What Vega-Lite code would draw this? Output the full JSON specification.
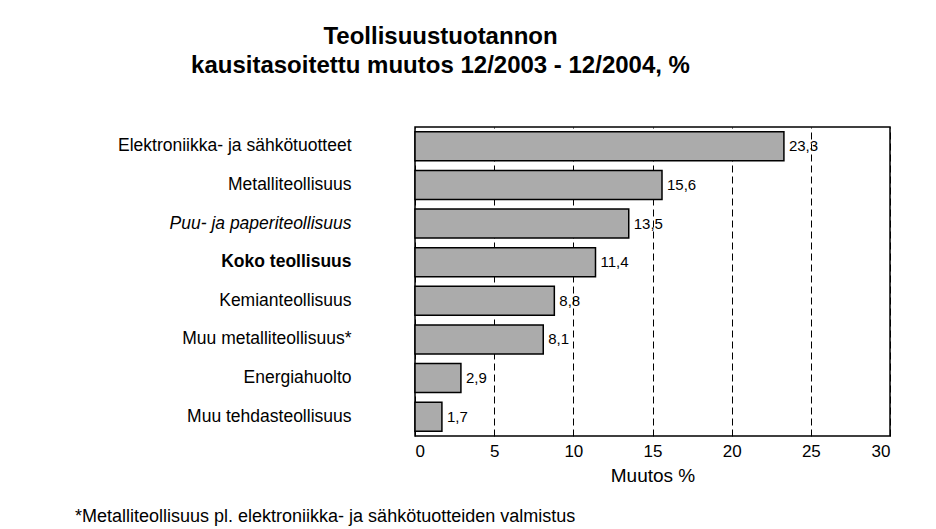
{
  "$schema": "https://vega.github.io/schema/vega-lite/v6.json",
  "autosize": {"type": "pad"},
  "padding": {"left": 75, "top": 24, "right": 0, "bottom": 0},
  "background": "white",
  "bounds": "flush",
  "spacing": 0,
  "config": {
    "font": "Liberation Sans",
    "locale": {"number": {"decimal": ",", "thousands": " ", "grouping": [3], "currency": ["", " €"]}},
    "view": {"stroke": "black", "strokeWidth": 1.5}
  },
  "title": {
    "text": "*Metalliteollisuus pl. elektroniikka- ja sähkötuotteiden valmistus",
    "orient": "bottom",
    "anchor": "start",
    "frame": "group",
    "dx": -340,
    "offset": 22,
    "fontSize": 18,
    "fontWeight": "normal",
    "color": "black"
  },
  "vconcat": [
    {
      "title": {
        "text": ["Teollisuustuotannon", "kausitasoitettu muutos 12/2003 - 12/2004, %"],
        "anchor": "middle",
        "frame": "group",
        "dx": -212,
        "offset": 49,
        "fontSize": 24,
        "fontWeight": "bold",
        "lineHeight": 29,
        "color": "black"
      },
      "width": 475,
      "height": 309,
      "data": {
        "values": [
          {"toimiala": "Elektroniikka- ja sähkötuotteet", "muutos": 23.3},
          {"toimiala": "Metalliteollisuus", "muutos": 15.6},
          {"toimiala": "Puu- ja paperiteollisuus", "muutos": 13.5},
          {"toimiala": "Koko teollisuus", "muutos": 11.4},
          {"toimiala": "Kemianteollisuus", "muutos": 8.8},
          {"toimiala": "Muu metalliteollisuus*", "muutos": 8.1},
          {"toimiala": "Energiahuolto", "muutos": 2.9},
          {"toimiala": "Muu tehdasteollisuus", "muutos": 1.7}
        ]
      },
      "encoding": {
        "y": {
          "field": "toimiala",
          "type": "nominal",
          "sort": null,
          "scale": {"paddingInner": 0.25, "paddingOuter": 0.125},
          "axis": {
            "title": null,
            "ticks": false,
            "domain": false,
            "labelPadding": 64,
            "labelFontSize": 17.5,
            "labelColor": "black",
            "labelLimit": 400,
            "labelFontStyle": {"condition": {"test": "datum.value == 'Puu- ja paperiteollisuus'", "value": "italic"}, "value": "normal"},
            "labelFontWeight": {"condition": {"test": "datum.value == 'Koko teollisuus'", "value": "bold"}, "value": "normal"}
          }
        },
        "x": {
          "field": "muutos",
          "type": "quantitative",
          "scale": {"domain": [0, 30], "nice": false},
          "axis": {
            "title": "Muutos %",
            "values": [0, 5, 10, 15, 20, 25, 30],
            "format": "d",
            "grid": true,
            "gridColor": "black",
            "gridDash": [7, 4],
            "gridWidth": 1,
            "gridOpacity": 1,
            "ticks": false,
            "domain": false,
            "labelPadding": 7,
            "labelFontSize": 17,
            "labelColor": "black",
            "titleFontSize": 19,
            "titleFontWeight": "normal",
            "titleColor": "black",
            "titlePadding": 7
          }
        }
      },
      "layer": [
        {
          "mark": {"type": "bar", "fill": "#ababab", "stroke": "black", "strokeWidth": 1.5}
        },
        {
          "mark": {"type": "text", "align": "left", "baseline": "middle", "dx": 5, "fontSize": 15, "color": "black"},
          "encoding": {"text": {"field": "muutos", "type": "quantitative", "format": ".1f"}}
        }
      ]
    }
  ]
}
